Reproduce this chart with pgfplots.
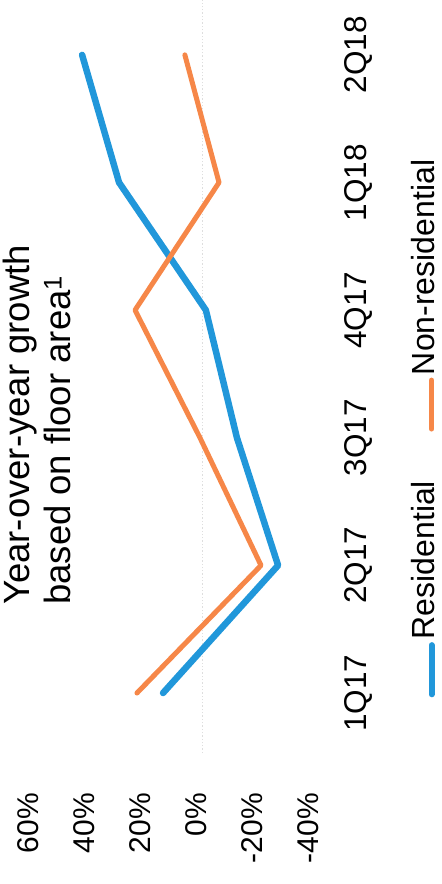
\documentclass[border=0pt]{standalone}
\usepackage{fontspec}
\setmainfont{Liberation Sans}
\usepackage{pgfplots}
\pgfplotsset{compat=1.18}

\definecolor{resblue}{RGB}{33,151,218}
\definecolor{nonresorange}{RGB}{246,135,72}
\definecolor{zerogrid}{RGB}{222,222,222}

\begin{document}
\begin{tikzpicture}
\begin{axis}[
  scale only axis, width=280pt, height=753pt,
  x dir=reverse,
  xmin=-40, xmax=60, ymin=-0.47, ymax=5.43,
  axis line style={draw=none},
  major tick length=0pt,
  xtick={-40,-20,0,20,40,60},
  xticklabels={-40\%,-20\%,0\%,20\%,40\%,60\%},
  xticklabel style={xshift=-6pt, rotate=90, anchor=east, inner sep=0pt,
    font=\fontsize{30}{36}\selectfont},
  xticklabel shift=40pt,
  ytick={0,1,2,3,4,5},
  yticklabels={1Q17,2Q17,3Q17,4Q17,1Q18,2Q18},
  yticklabel pos=right,
  yticklabel style={rotate=90, anchor=north, inner sep=0pt,
    font=\fontsize{31.5}{36}\selectfont},
  yticklabel shift=30pt,
  clip=false,
]
% zero reference line
\addplot[zerogrid, line width=1.3pt, dotted, forget plot]
  coordinates {(0,-0.47) (0,5.43)};

% Residential
\addplot[resblue, line width=6.5pt, line cap=round, line join=round]
  coordinates {(14.1,0) (-27,1) (-12.3,2) (-1.2,3) (29.8,4) (43,5)};

% Non-residential
\addplot[nonresorange, line width=5pt, line cap=round, line join=round]
  coordinates {(23.4,0) (-20.9,1) (0.9,2) (24.1,3) (-5.9,4) (6.3,5)};

% legend, set below the category labels
\addplot[resblue, line width=6pt, line cap=round, forget plot]
  coordinates {(-81.8,-0.01) (-81.8,0.375)};
\node[rotate=90, anchor=base west, inner sep=0pt,
  font=\fontsize{32}{38}\selectfont]
  at (axis cs:-83.0,0.42) {Residential};
\addplot[nonresorange, line width=5.5pt, line cap=round, forget plot]
  coordinates {(-81.8,2.07) (-81.8,2.45)};
\node[rotate=90, anchor=base west, inner sep=0pt,
  font=\fontsize{32}{38}\selectfont]
  at (axis cs:-83.0,2.49) {Non-residential};

% title
\node[rotate=90, anchor=north west, align=left, inner sep=0pt,
  font=\fontsize{36.5}{41}\selectfont]
  at (axis description cs:-0.1125,0.1965)
  {Year-over-year growth\\based on floor area\textsuperscript{1}};
\end{axis}
\pgfresetboundingbox
\path ([shift={(-34.5pt,-131pt)}]current axis.south west)
  rectangle ([shift={(126.5pt,0pt)}]current axis.north east);
\end{tikzpicture}
\end{document}
